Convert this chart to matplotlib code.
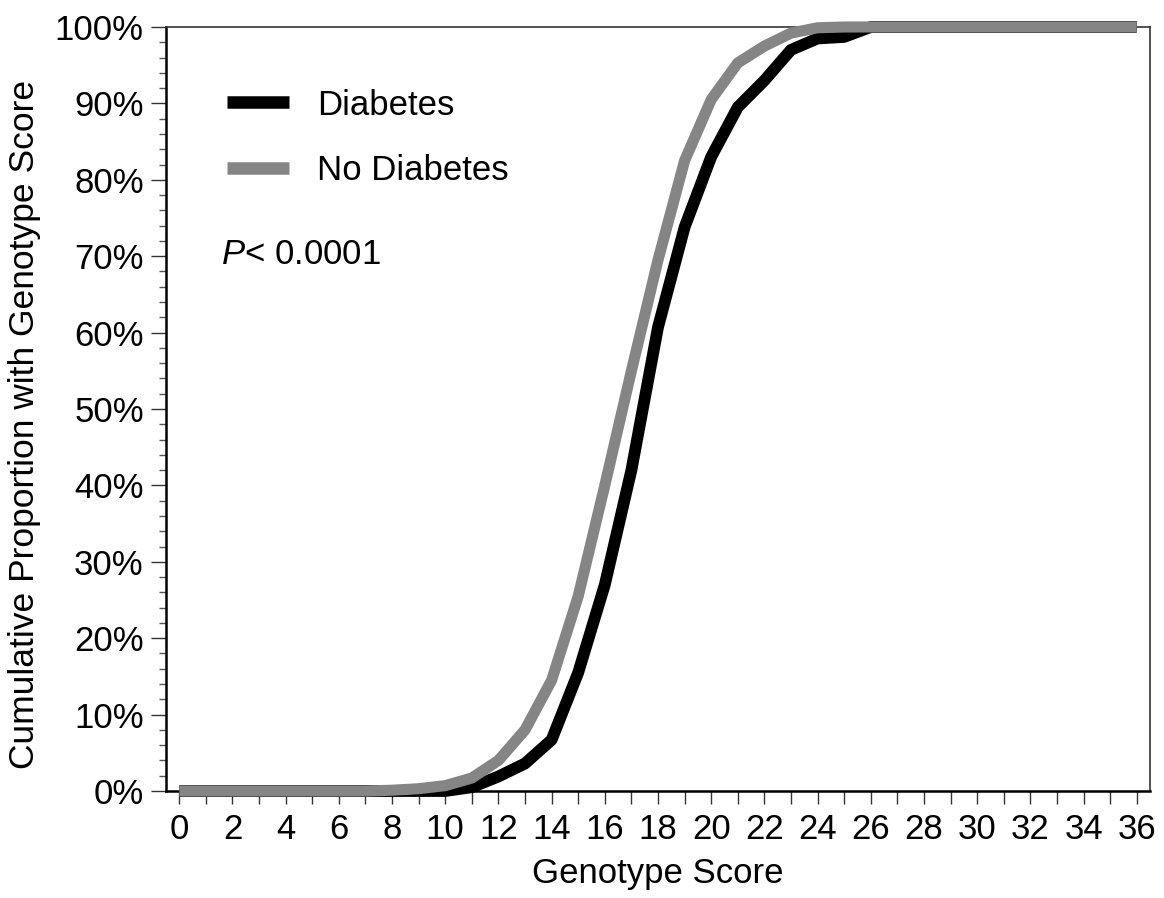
import matplotlib
matplotlib.use("Agg")
import matplotlib.pyplot as plt
from matplotlib.ticker import MultipleLocator, FuncFormatter

plt.rcParams['font.family'] = ['Liberation Sans', 'DejaVu Sans']
plt.rcParams['mathtext.fontset'] = 'custom'
plt.rcParams['mathtext.it'] = 'Liberation Sans:italic'
plt.rcParams['mathtext.rm'] = 'Liberation Sans'

# Data
genotype_score = list(range(0, 37))
diabetes = [0, 0, 0, 0, 0, 0, 0, 0, 0, 0, 0, 0.5, 1.9, 3.6, 6.7, 15.5, 27.0, 42.0,
            60.7, 73.8, 83.0, 89.5, 93.0, 97.0, 98.5, 98.7, 100, 100, 100, 100,
            100, 100, 100, 100, 100, 100, 100]
no_diabetes = [0, 0, 0, 0, 0, 0, 0, 0, 0.1, 0.3, 0.7, 1.7, 4.0, 8.0, 14.5, 25.5, 40.0,
               55.0, 69.5, 82.5, 90.5, 95.3, 97.5, 99.2, 99.9, 100, 100, 100, 100,
               100, 100, 100, 100, 100, 100, 100, 100]
series_labels = ["Diabetes", "No Diabetes"]
x_ticks = list(range(0, 37, 2))
y_ticks = list(range(0, 101, 10))
p_text = r"$\it{P}$< 0.0001"

FS = 25

fig = plt.figure(figsize=(11.64, 8.98), dpi=100)
ax = fig.add_axes([166/1164, 1-791/898, (1150-166)/1164, (791-27)/898])

ax.plot(genotype_score, diabetes, color='black', lw=8.5, label=series_labels[0],
        clip_on=False, solid_joinstyle='round', solid_capstyle='butt', zorder=3)
ax.plot(genotype_score, no_diabetes, color='#858585', lw=8, label=series_labels[1],
        clip_on=False, solid_joinstyle='round', solid_capstyle='butt', zorder=4)

ax.set_xlim(-0.5, 36.5)
ax.set_ylim(0, 100)

ax.set_xticks(x_ticks)
ax.xaxis.set_minor_locator(MultipleLocator(1))
ax.set_yticks(y_ticks)
ax.yaxis.set_minor_locator(MultipleLocator(2))
ax.yaxis.set_major_formatter(FuncFormatter(lambda v, p: f"{int(v)}%"))

ax.tick_params(axis='x', which='both', direction='out', length=9, width=1, pad=7,
               labelsize=FS, color='#333333')
ax.tick_params(axis='y', which='major', direction='out', length=11, width=1, pad=5,
               labelsize=FS, color='#333333')
ax.tick_params(axis='y', which='minor', direction='out', length=5, width=1, color='#555555')

for s in ['left', 'bottom']:
    ax.spines[s].set_linewidth(1.8)
for s in ['top', 'right']:
    ax.spines[s].set_linewidth(1.2)
    ax.spines[s].set_color('#333333')

ax.set_xlabel("Genotype Score", fontsize=FS)
ax.set_ylabel("Cumulative Proportion with Genotype Score", fontsize=25.5)
ax.xaxis.set_label_coords(0.5, -0.086)
ax.yaxis.set_label_coords(-0.127, 0.48)

leg = ax.legend(loc='upper left', bbox_to_anchor=(0.062, 0.9195), frameon=False,
                fontsize=FS, handlelength=1.79, handletextpad=0.8, labelspacing=0.95,
                borderpad=0, borderaxespad=0)
for h in leg.get_lines():
    h.set_linewidth(9)

ax.text(1.55, 70.2, p_text, fontsize=FS, va='center', ha='left')

fig.savefig("out.png", dpi=100)
